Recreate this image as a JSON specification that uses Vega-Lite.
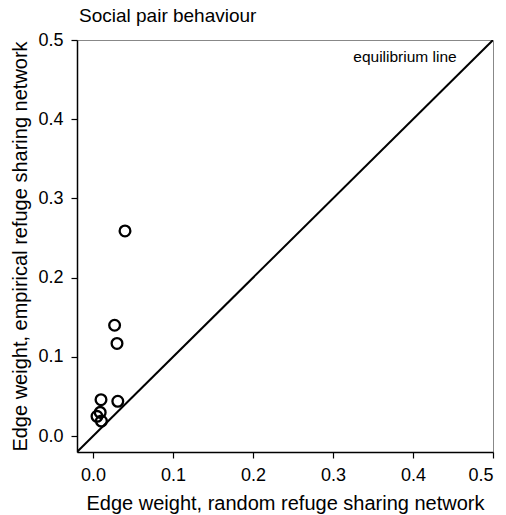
{
  "$schema": "https://vega.github.io/schema/vega-lite/v6.json",
  "autosize": "none",
  "width": 416,
  "height": 412,
  "padding": {"left": 77, "top": 40, "right": 13, "bottom": 63},
  "background": "white",
  "config": {
    "font": "Liberation Sans",
    "view": {"stroke": "#888888", "strokeWidth": 1},
    "axis": {
      "grid": false,
      "domainColor": "black",
      "domainWidth": 1.5,
      "tickColor": "black",
      "tickSize": 6,
      "tickWidth": 1.2,
      "labelFont": "Liberation Sans",
      "labelFontSize": 18,
      "labelColor": "black",
      "titleFont": "Liberation Sans",
      "titleFontSize": 20,
      "titleFontWeight": "normal",
      "titleColor": "black"
    }
  },
  "title": {
    "text": "Social pair behaviour",
    "anchor": "start",
    "frame": "group",
    "dx": 2,
    "offset": 5,
    "font": "Liberation Sans",
    "fontSize": 19,
    "fontWeight": "normal",
    "color": "black"
  },
  "layer": [
    {
      "data": {"values": [{"x": -0.02, "y": -0.02}, {"x": 0.5, "y": 0.5}]},
      "mark": {"type": "line", "color": "black", "strokeWidth": 2, "clip": true},
      "encoding": {
        "x": {"field": "x", "type": "quantitative", "scale": {"domain": [-0.02, 0.5], "nice": false, "zero": false},
          "axis": {"values": [0, 0.1, 0.2, 0.3, 0.4, 0.5], "format": ".1f", "title": "Edge weight, random refuge sharing network", "titlePadding": 9, "labelPadding": 8}},
        "y": {"field": "y", "type": "quantitative", "scale": {"domain": [-0.02, 0.5], "nice": false, "zero": false},
          "axis": {"values": [0, 0.1, 0.2, 0.3, 0.4, 0.5], "format": ".1f", "title": "Edge weight, empirical refuge sharing network", "titlePadding": 7, "labelPadding": 8}}
      }
    },
    {
      "data": {"values": [
        {"x": 0.040, "y": 0.259},
        {"x": 0.027, "y": 0.140},
        {"x": 0.030, "y": 0.117},
        {"x": 0.010, "y": 0.046},
        {"x": 0.031, "y": 0.044},
        {"x": 0.005, "y": 0.025},
        {"x": 0.009, "y": 0.030},
        {"x": 0.0105, "y": 0.019}
      ]},
      "mark": {"type": "point", "shape": "circle", "filled": false, "stroke": "black", "strokeWidth": 2.3, "size": 115, "opacity": 1},
      "encoding": {
        "x": {"field": "x", "type": "quantitative"},
        "y": {"field": "y", "type": "quantitative"}
      }
    },
    {
      "data": {"values": [{"x": 0.39, "y": 0.479, "label": "equilibrium line"}]},
      "mark": {"type": "text", "font": "Liberation Sans", "fontSize": 15.5, "color": "black", "align": "center", "baseline": "middle"},
      "encoding": {
        "x": {"field": "x", "type": "quantitative"},
        "y": {"field": "y", "type": "quantitative"},
        "text": {"field": "label"}
      }
    }
  ]
}
